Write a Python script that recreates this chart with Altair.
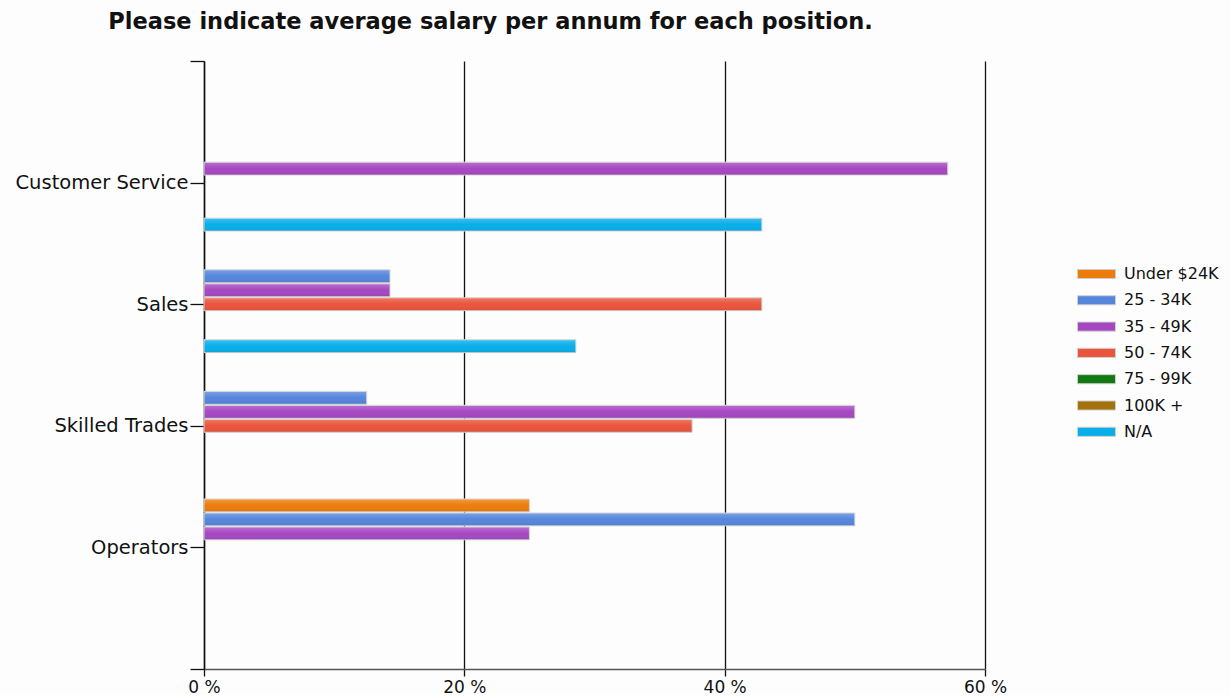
import json

import altair as alt
import pandas as pd

# Salary brackets and the positions surveyed
positions = ["Customer Service", "Sales", "Skilled Trades", "Operators"]
brackets = ["Under $24K", "25 - 34K", "35 - 49K", "50 - 74K", "75 - 99K", "100K +", "N/A"]
bracket_colors = ["#ec7d0c", "#5586db", "#a647c2", "#ea543c", "#137a13", "#a4720c", "#07aeea"]

# Share of answers (%) per bracket, one list per position
customer_service = [0, 0, 57.14, 0, 0, 0, 42.86]
sales = [0, 14.29, 14.29, 42.86, 0, 0, 28.57]
skilled_trades = [0, 12.5, 50.0, 37.5, 0, 0, 0]
operators = [25.0, 50.0, 25.0, 0, 0, 0, 0]
x_ticks = [0, 20, 40, 60]

series = [customer_service, sales, skilled_trades, operators]

rows = []
for i, (pos, vals) in enumerate(zip(positions, series)):
    for j, (br, v) in enumerate(zip(brackets, vals)):
        rows.append({"position": pos, "rank": len(positions) - i,
                     "bracket": br, "slot": j, "value": v})
df = pd.DataFrame(rows)

# slot spacing and bar thickness inside a group, in category units
STEP = 0.1151
HALF = 0.053
MID = (len(brackets) - 1) // 2

FONT = "DejaVu Sans"
y_labels = [""] + positions[::-1] + [""]
y_label_expr = json.dumps(y_labels) + "[datum.value]"

base = alt.Chart(df).transform_filter(
    "datum.value > 0"
).transform_calculate(
    yc=f"datum.rank - (datum.slot - {MID}) * {STEP}"
).transform_calculate(
    y0=f"datum.yc - {HALF}", y1=f"datum.yc + {HALF}"
)

x_enc = alt.X(
    "value:Q",
    scale=alt.Scale(domain=[0, 60], nice=False, zero=True),
    axis=alt.Axis(
        values=x_ticks, labelExpr="datum.value + ' %'", title=None,
        grid=True, gridColor="#111111", gridWidth=1.3,
        domainColor="#555555", domainWidth=1.5,
        tickColor="#111111", tickSize=7, tickWidth=1.3,
        labelFont=FONT, labelFontSize=17, labelColor="#111111", labelPadding=3,
        labelFlush=False, labelOverlap=False,
    ),
)
y_enc = alt.Y(
    "y0:Q",
    scale=alt.Scale(domain=[0, len(positions) + 1], nice=False, zero=False),
    axis=alt.Axis(
        values=list(range(len(positions) + 2)), labelExpr=y_label_expr, title=None,
        grid=False, domainColor="#111111", domainWidth=1.5,
        tickColor="#111111", tickSize=14, tickWidth=1.3,
        labelFont=FONT, labelFontSize=19.5, labelColor="#111111", labelPadding=2,
        minExtent=194, maxExtent=194,
    ),
)

# wide flat legend swatch
SWATCH = "M-2,-0.48H2V0.48H-2Z"

bars = base.mark_bar(stroke="#d6d6d6", strokeWidth=1).encode(
    x=x_enc,
    x2=alt.datum(0),
    y=y_enc,
    y2="y1:Q",
    color=alt.Color(
        "bracket:N",
        scale=alt.Scale(domain=brackets, range=bracket_colors),
        legend=alt.Legend(
            title=None, orient="none", legendX=882.5, legendY=203,
            symbolType=SWATCH, symbolSize=361,
            symbolStrokeColor="#cfcfcf", symbolStrokeWidth=1,
            labelFont=FONT, labelFontSize=16, labelColor="#111111",
            labelOffset=17.5, rowPadding=8.3,
        ),
    ),
)

# soft top-to-bottom shading over each bar
shade = base.mark_bar(
    strokeWidth=0,
    fill=alt.LinearGradient(
        gradient="linear", x1=0, x2=0, y1=0, y2=1,
        stops=[
            alt.GradientStop(offset=0, color="rgba(255,255,255,0.22)"),
            alt.GradientStop(offset=0.5, color="rgba(255,255,255,0.0)"),
            alt.GradientStop(offset=1, color="rgba(0,0,0,0.08)"),
        ],
    ),
).encode(x="value:Q", x2=alt.datum(0), y="y0:Q", y2="y1:Q")

chart = alt.layer(bars, shade).properties(
    width=781,
    height=608,
    padding={"left": 10, "top": 10, "right": 10, "bottom": 0},
    background="#fdfdfd",
    title=alt.Title(
        "Please indicate average salary per annum for each position.",
        font=FONT, fontSize=22.5, fontWeight="bold", color="#111111",
        anchor="middle", dx=-104, offset=27,
    ),
).configure_view(strokeWidth=0)

chart.save("out.html", embed_options={"renderer": "svg", "actions": False})
